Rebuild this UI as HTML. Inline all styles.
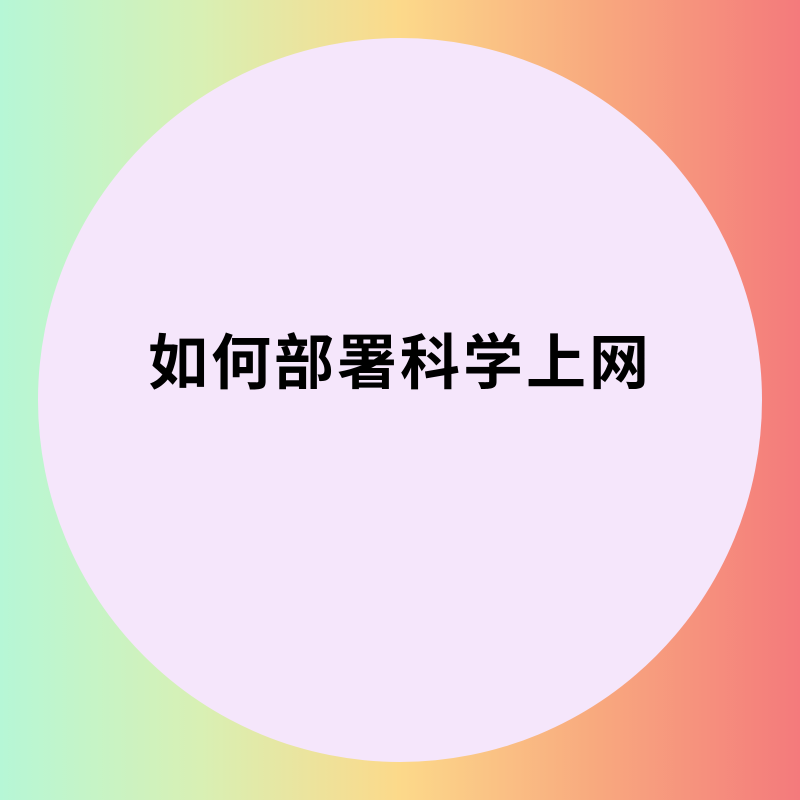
<!DOCTYPE html>
<html>
<head>
<meta charset="utf-8">
<style>
html,body{margin:0;padding:0;}
body{width:800px;height:800px;overflow:hidden;background:linear-gradient(90deg,#b6f7d6 0%,#d8f0b4 25%,#fcd98a 50%,#f8a87e 75%,#f47a7c 100%);position:relative;}
#circle{position:absolute;left:38px;top:38px;width:724px;height:724px;border-radius:50%;background:#f5e6fb;}
#title{position:absolute;left:0;width:800px;top:326px;text-align:center;font-family:"Liberation Sans","Noto Sans CJK SC",sans-serif;font-weight:bold;font-size:60px;line-height:76px;letter-spacing:3px;color:#000;}
</style>
</head>
<body>
<div id="circle"></div>
<div id="title">如何部署科学上网</div>
</body>
</html>
